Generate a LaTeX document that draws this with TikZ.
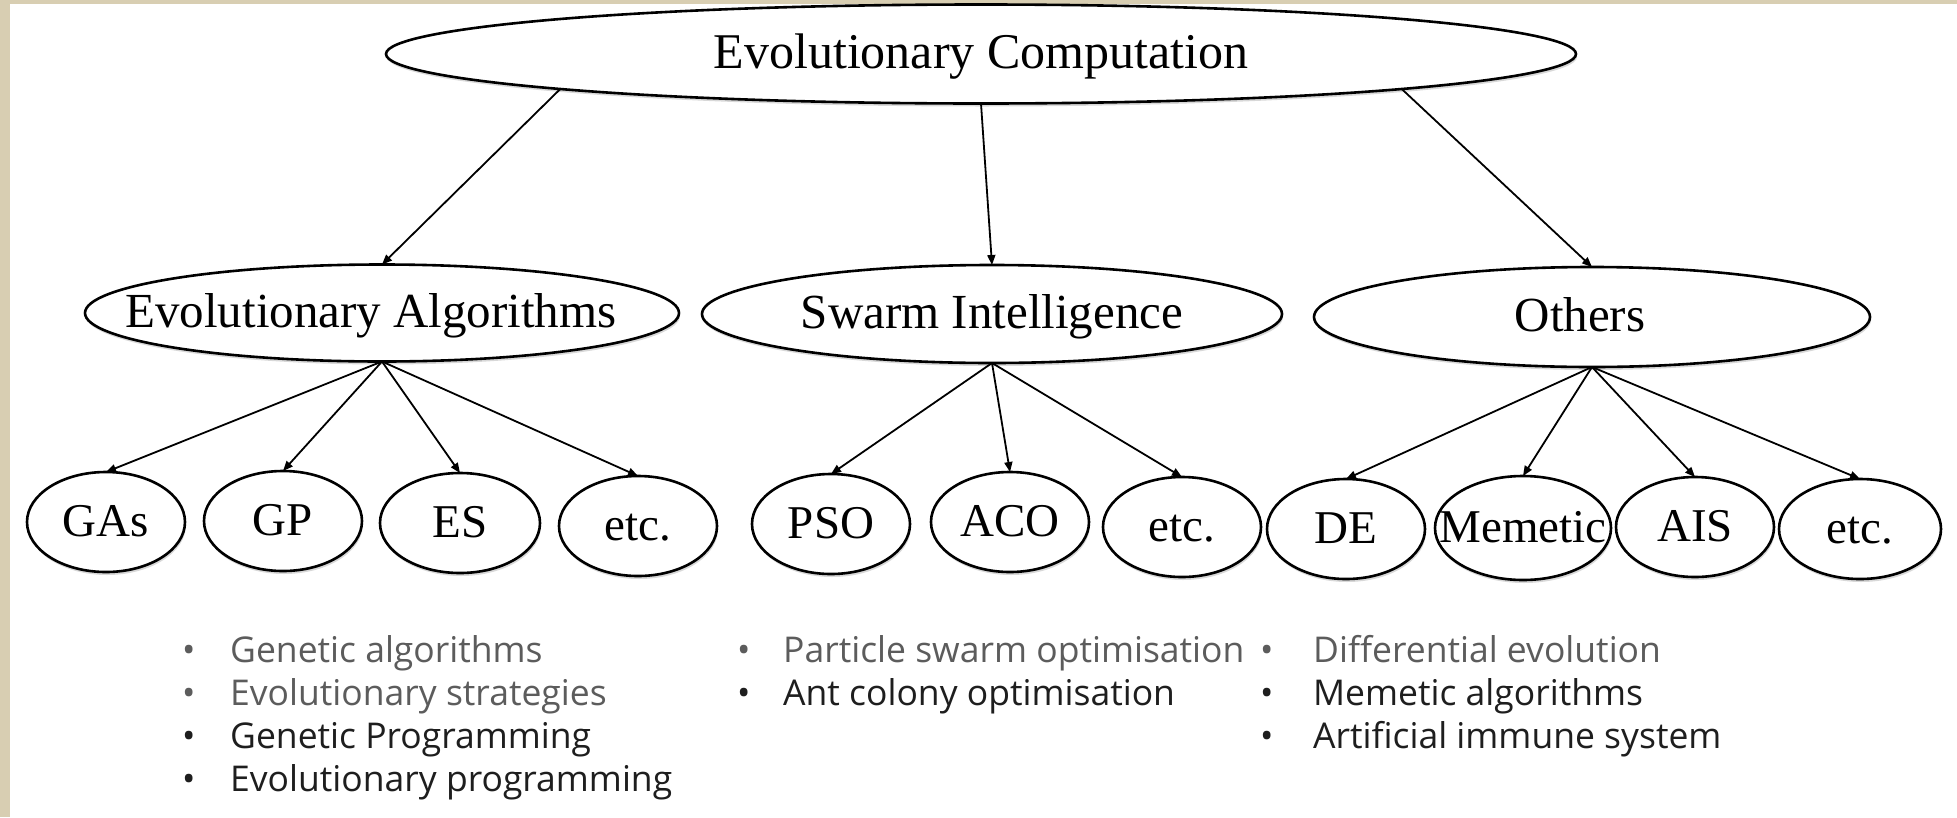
\documentclass[tikz,border=0pt]{standalone}
\usepackage{fontspec}
\setmainfont{Liberation Serif}
\newfontfamily\listfont{Open Sans}
\usetikzlibrary{shapes.geometric,arrows.meta,shadows}
\definecolor{framebeige}{RGB}{216,206,178}
\definecolor{itemgrey}{RGB}{92,92,92}
\definecolor{itemdark}{RGB}{30,30,30}
\begin{document}
\begin{tikzpicture}[x=1pt,y=-1pt,
  % ellipse whose size is set only by minimum width/height; the label is centred in a zero-width box
  oval/.style={ellipse, draw=black, line width=2.6pt, fill=white, inner sep=0pt, outer sep=0pt,
    text height=34pt, text depth=5pt,
    execute at begin node={\hbox to 0pt\bgroup\hss},
    execute at end node={\hss\egroup},
    drop shadow={opacity=0.3, shadow xshift=1pt, shadow yshift=-3pt}},
  bigoval/.style={oval, font=\fontsize{49}{55}\selectfont},
  leafoval/.style={oval, font=\fontsize{47}{52}\selectfont, text height=33pt,
    minimum width=158pt, minimum height=100pt},
  arr/.style={-{Triangle[length=10pt,width=8pt]}, line width=1.8pt},
  li/.style={anchor=base west, inner sep=0pt, font=\listfont\fontsize{35.5}{40}\selectfont},
  lg/.style={li, text=itemgrey},
  ld/.style={li, text=itemdark}
]
% page and frame
\fill[white] (0,0) rectangle (1957,817);
\fill[framebeige] (0,0) rectangle (1957,4);
\fill[framebeige] (0,0) rectangle (10,817);
\useasboundingbox (0,0) rectangle (1957,817);

% root
\node[bigoval, minimum width=1190pt, minimum height=99pt, font=\fontsize{50}{55}\selectfont]
  (ec) at (981,54) {Evolutionary Computation};

% second level
\node[bigoval, minimum width=594pt, minimum height=97pt] (ea) at (382,313) {Evolutionary Algorithms\kern22pt};
\node[bigoval, minimum width=580pt, minimum height=98pt] (si) at (992,314) {Swarm Intelligence};
\node[bigoval, minimum width=556pt, minimum height=100pt] (ot) at (1592,317) {Others\kern24pt};

% leaves
\node[leafoval] (gas)  at (106,522) {GAs};
\node[leafoval] (gp)   at (283,521) {GP};
\node[leafoval, minimum width=160pt] (es) at (460,523) {ES};
\node[leafoval] (etca) at (638,526) {etc.};
\node[leafoval] (pso)  at (831,524) {PSO};
\node[leafoval] (aco)  at (1010,522) {ACO};
\node[leafoval] (etcb) at (1182,527) {etc.};
\node[leafoval] (de)   at (1346,529) {DE};
\node[leafoval, minimum width=176pt, minimum height=104pt] (mem) at (1523,528) {Memetic};
\node[leafoval] (ais)  at (1695,527) {AIS};
\node[leafoval, minimum width=162pt] (etcc) at (1860,529) {etc.};

% connectors
\draw[arr] (ec.south west) -- (ea.north);
\draw[arr] (ec.south) -- (si.north);
\draw[arr] (ec.south east) -- (ot.north);
\foreach \c in {gas,gp,es,etca} \draw[arr] (ea.south) -- (\c.north);
\foreach \c in {pso,aco,etcb} \draw[arr] (si.south) -- (\c.north);
\foreach \c in {de,mem,ais,etcc} \draw[arr] (ot.south) -- (\c.north);

% expansions of the abbreviations
\node[lg] (l1) at (182,662) {\makebox[48pt][l]{•}Genetic algorithms};
\node[lg] (l2) at (182,705) {\makebox[48pt][l]{•}Evolutionary strategies};
\node[ld] (l3) at (182,748) {\makebox[48pt][l]{•}Genetic Programming};
\node[ld] (l4) at (182,791) {\makebox[48pt][l]{•}Evolutionary programming};
\node[lg] (m1) at (737,662) {\makebox[46pt][l]{•}Particle swarm optimisation};
\node[ld] (m2) at (737,705) {\makebox[46pt][l]{•}Ant colony optimisation};
\node[lg] (r1) at (1260,662) {\makebox[53pt][l]{•}Differential evolution};
\node[ld] (r2) at (1260,705) {\makebox[53pt][l]{•}Memetic algorithms};
\node[ld] (r3) at (1260,748) {\makebox[53pt][l]{•}Artificial immune system};
\end{tikzpicture}
\end{document}
